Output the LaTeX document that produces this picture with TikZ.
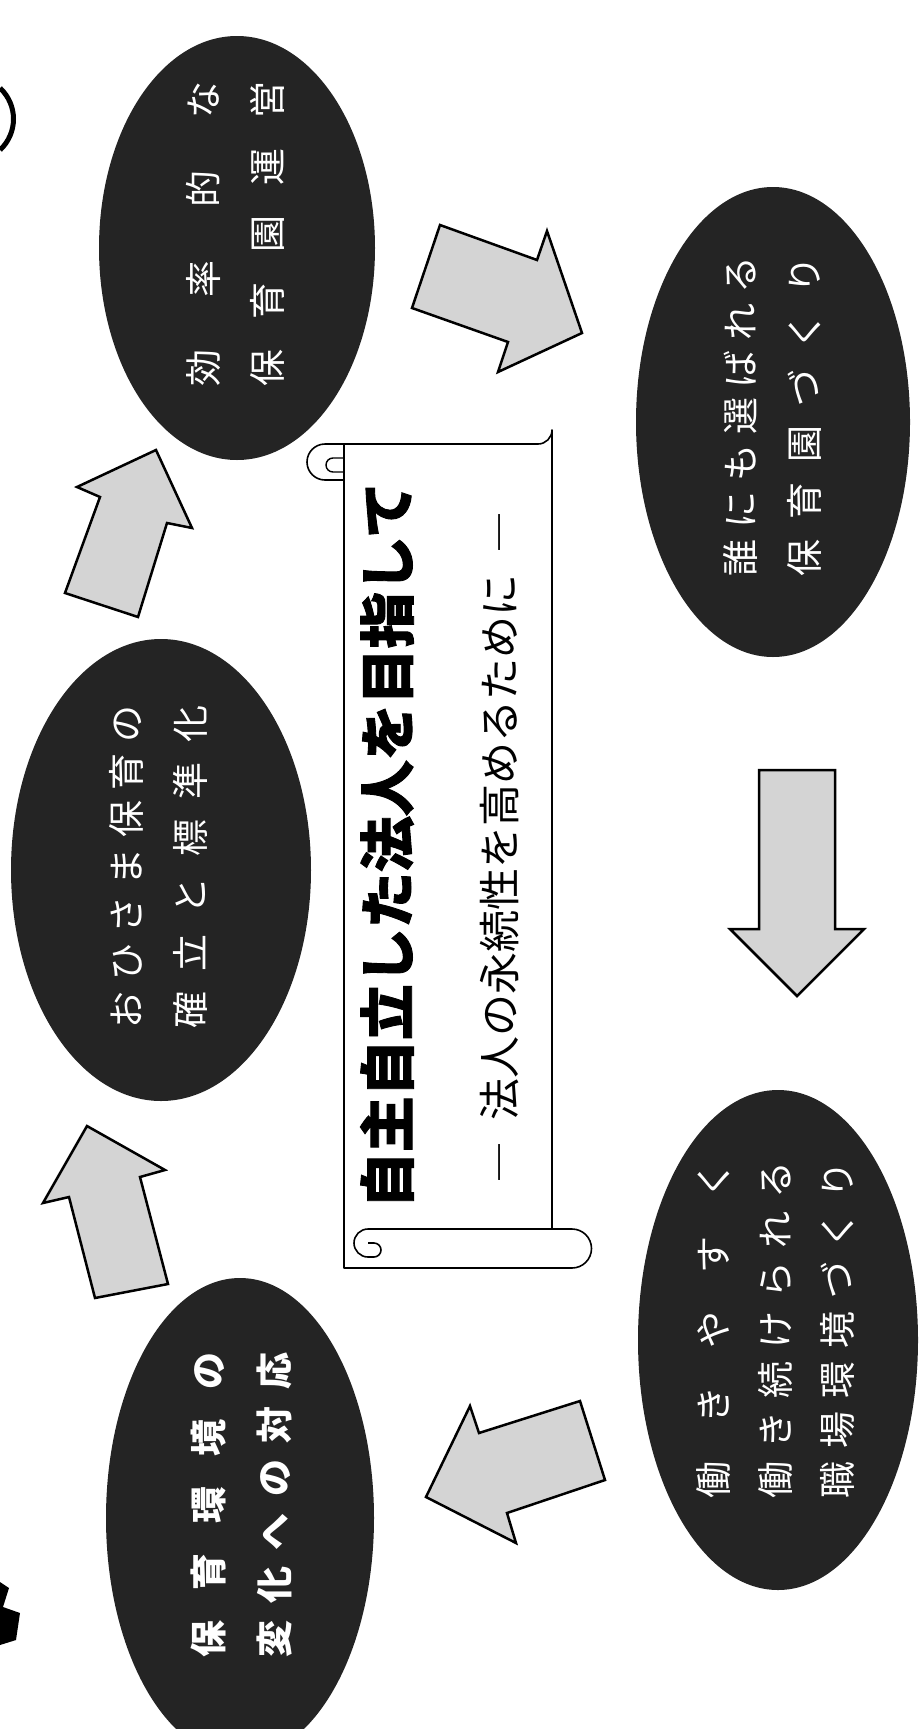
\documentclass[tikz,border=0pt]{standalone}
\usepackage{fontspec}
\newfontfamily\jp{Noto Sans CJK JP}
\newfontfamily\jpheavy[BoldFeatures={FakeBold=1.6}]{Noto Sans CJK JP}
\usetikzlibrary{shapes.geometric}
\begin{document}
\begin{tikzpicture}[x=1pt,y=-1pt,
  ell/.style={ellipse, fill=black!86, draw=none, inner sep=0pt},
  etxt/.style={rotate=90, text=white, font=\jp\fontsize{37}{64}\selectfont, align=center, inner sep=0pt},
  blockarrow/.style={fill=black!17, draw=black, line width=2.5pt, line join=miter},
  scrollline/.style={draw=black, line width=1.6pt, fill=white, line join=round},
  edgemark/.style={fill=black, draw=none}]
\useasboundingbox (0,0) rectangle (919,1729);

% partial shapes at the left edge
\draw[line width=5pt] (0,88) .. controls (18,105) and (18,133) .. (0,150);
\fill[edgemark] (0,1582) -- (9,1588) -- (3,1607) -- (20,1613) -- (16,1640) -- (0,1645) -- cycle;

% ellipses
\node[ell, minimum width=276pt, minimum height=424pt] (e3) at (237,248) {};
\node[ell, minimum width=300pt, minimum height=462pt] (e2) at (161,870) {};
\node[ell, minimum width=268pt, minimum height=480pt] (e1) at (240,1518) {};
\node[ell, minimum width=274pt, minimum height=470pt] (e4) at (773,422) {};
\node[ell, minimum width=280pt, minimum height=500pt] (e5) at (778,1340) {};

% ellipse texts
\node[etxt] (t3) at (235,234) {\makebox[305pt][s]{効\hfill 率\hfill 的\hfill な}\\\makebox[305pt][s]{保\hfill 育\hfill 園\hfill 運\hfill 営}};
\node[etxt] (t2) at (158,867) {\makebox[323pt][s]{お\hfill ひ\hfill さ\hfill ま\hfill 保\hfill 育\hfill の}\\\makebox[323pt][s]{確\hfill 立\hfill と\hfill 標\hfill 準\hfill 化}};
\node[etxt, font=\jp\bfseries\fontsize{37}{66}\selectfont] (t1) at (241,1505) {\makebox[305pt][s]{保\hfill 育\hfill 環\hfill 境\hfill の}\\\makebox[305pt][s]{変\hfill 化\hfill へ\hfill の\hfill 対\hfill 応}};
\node[etxt] (t4) at (772,416) {\makebox[320pt][s]{誰\hfill に\hfill も\hfill 選\hfill ば\hfill れ\hfill る}\\\makebox[320pt][s]{保\hfill 育\hfill 園\hfill づ\hfill く\hfill り}};
\node[etxt, font=\jp\fontsize{37}{62}\selectfont] (t5) at (776,1330) {\makebox[337pt][s]{働\hfill き\hfill や\hfill す\hfill く}\\\makebox[337pt][s]{働\hfill き\hfill 続\hfill け\hfill ら\hfill れ\hfill る}\\\makebox[337pt][s]{職\hfill 場\hfill 環\hfill 境\hfill づ\hfill く\hfill り}};

% block arrows
\draw[blockarrow] (65,593) -- (138,617) -- (167,523) -- (192,528) -- (156,450) -- (77,487) -- (100,497) -- cycle;
\draw[blockarrow] (87,1126) -- (165,1170) -- (140,1177) -- (168,1284) -- (95,1298) -- (69,1197) -- (43,1203) -- cycle;
\draw[blockarrow] (440,225) -- (537,260) -- (547,231) -- (582,333) -- (498,372) -- (508,342) -- (412,308) -- cycle;
\draw[blockarrow] (759,770) -- (835,770) -- (835,929) -- (864,929) -- (797,996) -- (730,929) -- (759,929) -- cycle;
\draw[blockarrow] (580,1401) -- (605,1480) -- (507,1513) -- (516,1543) -- (426,1497) -- (470,1406) -- (479,1433) -- cycle;

% scroll
\path[scrollline] (344,480) -- (325,480) arc[start angle=90, end angle=270, radius=18] -- (538,444)
  arc[start angle=90, end angle=0, radius=14] -- (552,1229) -- (572,1229)
  arc[start angle=-90, end angle=90, radius=19.5] -- (344,1268) -- cycle;
\draw[line width=1.6pt] (344,480) -- (344,444);
\draw[line width=1.4pt] (344,458) -- (333,458) arc[start angle=270, end angle=90, radius=7] -- (337,472) -- (344,472);
\draw[line width=1.6pt] (552,1229) -- (368,1229) arc[start angle=270, end angle=90, radius=14] -- (374,1257) arc[start angle=90, end angle=-90, radius=7] -- (368,1243);
\coordinate (scrollc) at (448,856);

% title texts
\node[rotate=90, inner sep=0pt, font=\jpheavy\bfseries\fontsize{56}{56}\selectfont] (title) at (387,845) {自主自立した法人を目指して};
\node[rotate=90, inner sep=0pt, font=\jp\fontsize{42}{42}\selectfont] (sub) at (500,847) {\makebox[672pt][s]{―\hfill 法人の永続性を高めるために\hfill ―}};
\end{tikzpicture}
\end{document}
